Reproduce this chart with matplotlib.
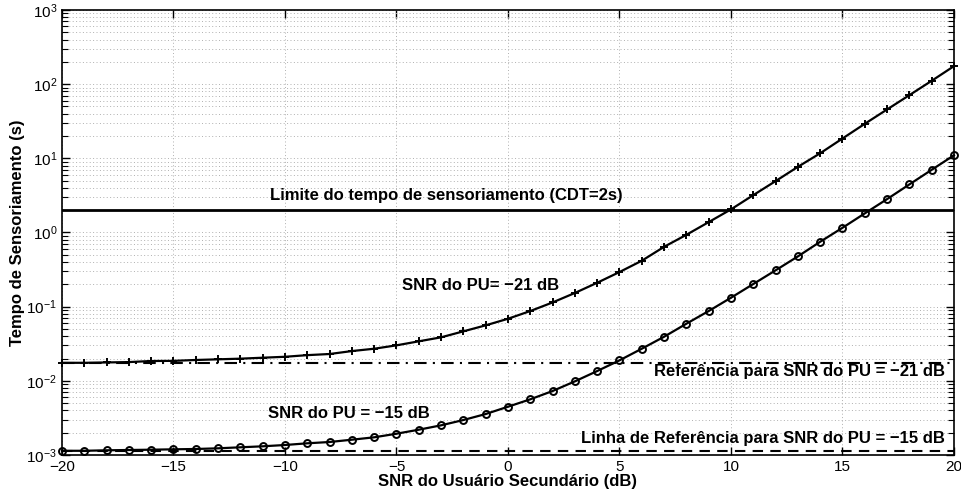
import numpy as np
import matplotlib
matplotlib.use("Agg")
import matplotlib.pyplot as plt
from matplotlib.ticker import LogLocator, NullFormatter, MultipleLocator

plt.rcParams["font.family"] = ["Liberation Sans", "DejaVu Sans"]
plt.rcParams["mathtext.default"] = "regular"

# SNR do usuario secundario (dB)
snr_su = np.arange(-20, 21)

# tempo de sensoriamento, SNR do PU = -21 dB (marcador +)
t_pu21 = [0.0175, 0.0175, 0.0177, 0.0179, 0.0185, 0.0186, 0.0191, 0.0195, 0.0199, 0.0205,
          0.0211, 0.0222, 0.0230, 0.0252, 0.0271, 0.0301, 0.0341, 0.0386, 0.0465, 0.0560,
          0.0687, 0.0873, 0.114, 0.153, 0.210, 0.293, 0.416, 0.641, 0.931, 1.38,
          2.05, 3.19, 4.93, 7.68, 11.7, 18.5, 29.2, 45.6, 71.1, 111.0, 175.0]

# tempo de sensoriamento, SNR do PU = -15 dB (marcador o)
t_pu15 = [0.00114, 0.00114, 0.001157, 0.001168, 0.001179, 0.001193, 0.001205, 0.001231,
          0.00127, 0.00131, 0.001364, 0.001438, 0.001497, 0.001608, 0.001732, 0.001937,
          0.002193, 0.002513, 0.002963, 0.003569, 0.004477, 0.005634, 0.00729, 0.00984,
          0.01355, 0.01888, 0.0271, 0.0393, 0.0589, 0.0873, 0.132, 0.202, 0.309, 0.476,
          0.750, 1.157, 1.81, 2.82, 4.45, 7.00, 11.0]

cdt = 2.0
ref_pu21 = 0.0175
ref_pu15 = 0.00113

fig = plt.figure(figsize=(9.61, 4.97), dpi=100)
ax = fig.add_axes([0.0645, 0.0845, 0.9282, 0.8954])

ax.set_yscale("log")
ax.set_xlim(-20, 20)
ax.set_ylim(1e-3, 1e3)

ax.grid(True, which="major", axis="x", linestyle=(0, (1, 2.5)), color="#b0b0b0", linewidth=0.7)
ax.grid(True, which="both", axis="y", linestyle=(0, (1, 2.5)), color="#b0b0b0", linewidth=0.7)
ax.set_axisbelow(True)

ax.axhline(cdt, color="black", linewidth=2)
ax.axhline(ref_pu21, color="black", linestyle="-.", linewidth=1.5, dashes=(6, 3, 1, 3))
ax.axhline(ref_pu15, color="black", linestyle="--", linewidth=1.5, dashes=(5, 3.5))

ax.plot(snr_su, t_pu21, color="black", linewidth=1.6, marker="+",
        markersize=6, markeredgewidth=1.4, clip_on=False)
ax.plot(snr_su, t_pu15, color="black", linewidth=1.6, marker="o",
        markersize=5, markeredgewidth=1.4, markerfacecolor="none", clip_on=False)

txt = dict(fontsize=12, fontweight="bold", color="black", va="center")
ax.text(-10.67, 3.2, "Limite do tempo de sensoriamento (CDT=2s)", ha="left", **txt)
ax.text(-4.75, 0.19, "SNR do PU= \u221221 dB", ha="left", **txt)
ax.text(-10.75, 0.0036, "SNR do PU = \u221215 dB", ha="left", **txt)
ax.text(19.6, 0.0132, "Refer\u00eancia para SNR do PU = \u221221 dB", ha="right", **txt)
ax.text(19.6, 0.00168, "Linha de Refer\u00eancia para SNR do PU = \u221215 dB", ha="right", **txt)

ax.xaxis.set_major_locator(MultipleLocator(5))
ax.yaxis.set_major_locator(LogLocator(base=10, numticks=10))
ax.yaxis.set_minor_locator(LogLocator(base=10, subs=np.arange(2, 10), numticks=20))
ax.yaxis.set_minor_formatter(NullFormatter())
ax.tick_params(which="both", direction="in", top=True, right=True, labelsize=11)
ax.tick_params(which="major", length=6, width=1)
ax.tick_params(which="minor", length=4, width=0.8)
ax.tick_params(axis="x", which="minor", top=False, bottom=False)
for s in ax.spines.values():
    s.set_linewidth(1.2)

ax.set_xlabel("SNR do Usu\u00e1rio Secund\u00e1rio (dB)", fontsize=12, fontweight="bold", labelpad=0)
ax.set_ylabel("Tempo de Sensoriamento (s)", fontsize=12, fontweight="bold", labelpad=1)

fig.savefig("out.png", dpi=100)
